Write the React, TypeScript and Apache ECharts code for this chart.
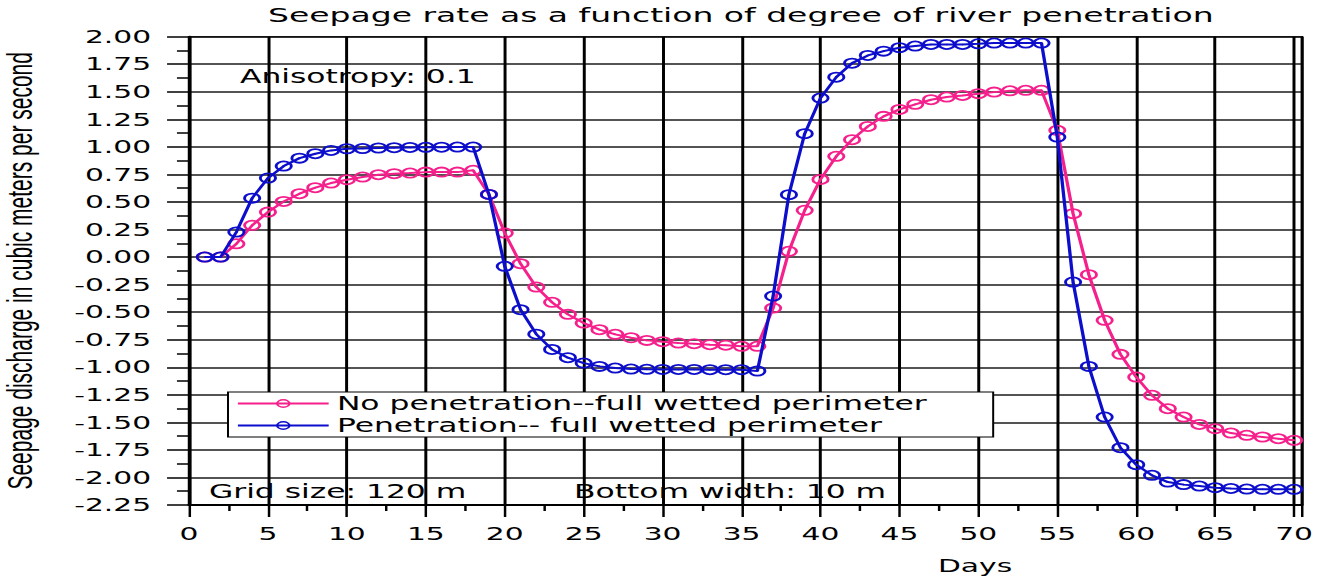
import React, { useEffect, useRef } from 'react';
import * as echarts from 'echarts';

// ---- data ----
const DAYS = [
  1, 2, 3, 4, 5, 6, 7, 8, 9, 10, 11, 12, 13, 14, 15, 16, 17, 18, 19, 20,
  21, 22, 23, 24, 25, 26, 27, 28, 29, 30, 31, 32, 33, 34, 35, 36, 37, 38, 39, 40,
  41, 42, 43, 44, 45, 46, 47, 48, 49, 50, 51, 52, 53, 54, 55, 56, 57, 58, 59, 60,
  61, 62, 63, 64, 65, 66, 67, 68, 69, 70,
];

const NO_PENETRATION = [
  0, 0, 0.12, 0.288, 0.408, 0.505, 0.575, 0.63, 0.672, 0.702, 0.726, 0.748, 0.757, 0.762, 0.771, 0.771, 0.771, 0.787,
  0.569, 0.218, -0.06, -0.272, -0.411, -0.52, -0.599, -0.659, -0.701, -0.732, -0.756, -0.768, -0.78, -0.786, -0.795, -0.8, -0.81, -0.81,
  -0.463, 0.052, 0.424, 0.705, 0.914, 1.065, 1.186, 1.277, 1.34, 1.386, 1.428, 1.452, 1.467, 1.483, 1.497, 1.509, 1.513, 1.513,
  1.15, 0.394, -0.16, -0.574, -0.883, -1.089, -1.255, -1.376, -1.452, -1.519, -1.557, -1.597, -1.618, -1.633, -1.648, -1.663,
];

const PENETRATION = [
  0, 0, 0.227, 0.535, 0.717, 0.826, 0.898, 0.938, 0.968, 0.983, 0.985, 0.99, 0.993, 0.995, 0.996, 0.997, 0.998, 0.998,
  0.569, -0.084, -0.477, -0.7, -0.838, -0.913, -0.962, -0.992, -1.007, -1.016, -1.019, -1.02, -1.02, -1.02, -1.022, -1.022, -1.022, -1.034,
  -0.354, 0.566, 1.12, 1.443, 1.633, 1.76, 1.83, 1.869, 1.9, 1.915, 1.93, 1.93, 1.93, 1.935, 1.942, 1.942, 1.942, 1.942,
  1.089, -0.227, -0.992, -1.452, -1.73, -1.884, -1.981, -2.042, -2.065, -2.078, -2.093, -2.1, -2.105, -2.108, -2.108, -2.108,
];

const SERIES_NAMES = ['No penetration--full wetted perimeter', 'Penetration-- full wetted perimeter'];
const TITLE = 'Seepage rate as a function of degree of river penetration';
const Y_NAME = 'Seepage discharge in cubic meters per second';
const X_NAME = 'Days';
const NOTES = ['Anisotropy: 0.1', 'Grid size: 120 m', 'Bottom width: 10 m'];

// ---- layout ----
const BASE_W = 804;
const H = 580;
const SX = 1327 / BASE_W; // the reference is horizontally stretched
const ux = (x: number) => x / SX;

const PINK = '#f5208c';
const BLUE = '#0d0dcc';
const NUM_FONT = 'DejaVu Sans';
const TXT_FONT = 'Liberation Sans';

const MARKER =
  'path://M10,0 A10,10 0 1,1 10,20 A10,10 0 1,1 10,0 Z ' +
  'M10,3.2 A6.8,6.8 0 1,0 10,16.8 A6.8,6.8 0 1,0 10,3.2 Z ' +
  'M10,8.6 A1.4,1.4 0 1,1 10,11.4 A1.4,1.4 0 1,1 10,8.6 Z';

function pairs(vals: number[]) {
  return DAYS.map((d, i) => [d, vals[i]]);
}

export default function App() {
  const ref = useRef<HTMLDivElement>(null);

  useEffect(() => {
    const chart = echarts.init(ref.current!, null, { renderer: 'svg' });
    const gridLeft = ux(189);
    const gridRight = BASE_W - ux(1302);
    const option: any = {
      animation: false,
      backgroundColor: '#fff',
      title: {
        text: TITLE,
        left: ux(268),
        top: 5,
        padding: 0,
        textStyle: { fontFamily: NUM_FONT, fontSize: 20, fontWeight: 'normal', color: '#000' },
      },
      grid: {
        left: gridLeft,
        right: gridRight,
        top: 36.7,
        bottom: H - 505,
        containLabel: false,
        outerBoundsMode: 'none',
        show: true,
        borderColor: '#000',
        borderWidth: 1.5,
        backgroundColor: 'transparent',
      },
      legend: {
        orient: 'vertical',
        left: ux(228),
        top: 392,
        padding: [2, 40, 2, 5],
        itemGap: 3,
        itemWidth: 55,
        itemHeight: 11,
        backgroundColor: '#fff',
        borderColor: '#000',
        borderWidth: 1.2,
        textStyle: { fontFamily: NUM_FONT, fontSize: 19, color: '#000' },
        selectedMode: false,
        data: SERIES_NAMES,
      },
      xAxis: {
        type: 'value',
        min: 0,
        max: 70.5,
        interval: 5,
        axisLine: { show: true, onZero: false, lineStyle: { color: '#000', width: 2 } },
        axisTick: { show: true, length: 12, lineStyle: { color: '#000', width: 1.5 } },
        minorTick: { show: true, splitNumber: 2, length: 6, lineStyle: { color: '#000', width: 1.5 } },
        axisLabel: {
          margin: 20,
          fontFamily: NUM_FONT,
          fontSize: 18,
          color: '#000',
          formatter: (v: number) => (Math.abs(v % 5) < 1e-9 ? String(v) : ''),
        },
        splitLine: { show: true, lineStyle: { color: '#000', width: 1.8 } },
      },
      yAxis: {
        type: 'value',
        min: -2.25,
        max: 2.0,
        interval: 0.25,
        name: Y_NAME,
        nameLocation: 'middle',
        nameGap: 92,
        nameTextStyle: { fontFamily: TXT_FONT, fontSize: 21, color: '#000' },
        axisLine: { show: true, onZero: false, lineStyle: { color: '#000', width: 2 } },
        axisTick: { show: true, length: 13.3, lineStyle: { color: '#000', width: 1.5 } },
        minorTick: { show: true, splitNumber: 2, length: 7.3, lineStyle: { color: '#000', width: 1.5 } },
        axisLabel: {
          margin: 23,
          fontFamily: NUM_FONT,
          fontSize: 18,
          color: '#000',
          formatter: (v: number) => v.toFixed(2),
        },
        splitLine: { show: true, lineStyle: { color: '#1a1a1a', width: 1.5 } },
      },
      graphic: [
        {
          type: 'text',
          x: ux(240),
          y: 76,
          style: { text: NOTES[0], font: `19px "${NUM_FONT}"`, fill: '#000', verticalAlign: 'middle' },
          z: 10,
        },
        {
          type: 'text',
          x: ux(209),
          y: 491,
          style: { text: NOTES[1], font: `19px "${NUM_FONT}"`, fill: '#000', verticalAlign: 'middle' },
          z: 10,
        },
        {
          type: 'text',
          x: ux(574),
          y: 491,
          style: { text: NOTES[2], font: `19px "${NUM_FONT}"`, fill: '#000', verticalAlign: 'middle' },
          z: 10,
        },
        {
          type: 'text',
          x: ux(938),
          y: 566,
          style: { text: X_NAME, font: `18px "${NUM_FONT}"`, fill: '#000', verticalAlign: 'middle' },
          z: 10,
        },
      ],
      series: [
        {
          name: SERIES_NAMES[0],
          type: 'line',
          data: pairs(NO_PENETRATION),
          symbol: MARKER,
          symbolSize: 11,
          showSymbol: true,
          lineStyle: { color: PINK, width: 2 },
          itemStyle: { color: PINK },
          z: 3,
        },
        {
          name: SERIES_NAMES[1],
          type: 'line',
          data: pairs(PENETRATION),
          symbol: MARKER,
          symbolSize: 11,
          showSymbol: true,
          lineStyle: { color: BLUE, width: 2 },
          itemStyle: { color: BLUE },
          z: 4,
        },
      ],
    };
    chart.setOption(option);
    return () => chart.dispose();
  }, []);

  return (
    <div
      ref={ref}
      style={{
        position: 'absolute',
        left: 0,
        top: 0,
        width: BASE_W,
        height: H,
        transform: `scaleX(${SX})`,
        transformOrigin: '0 0',
        background: '#fff',
      }}
    />
  );
}
